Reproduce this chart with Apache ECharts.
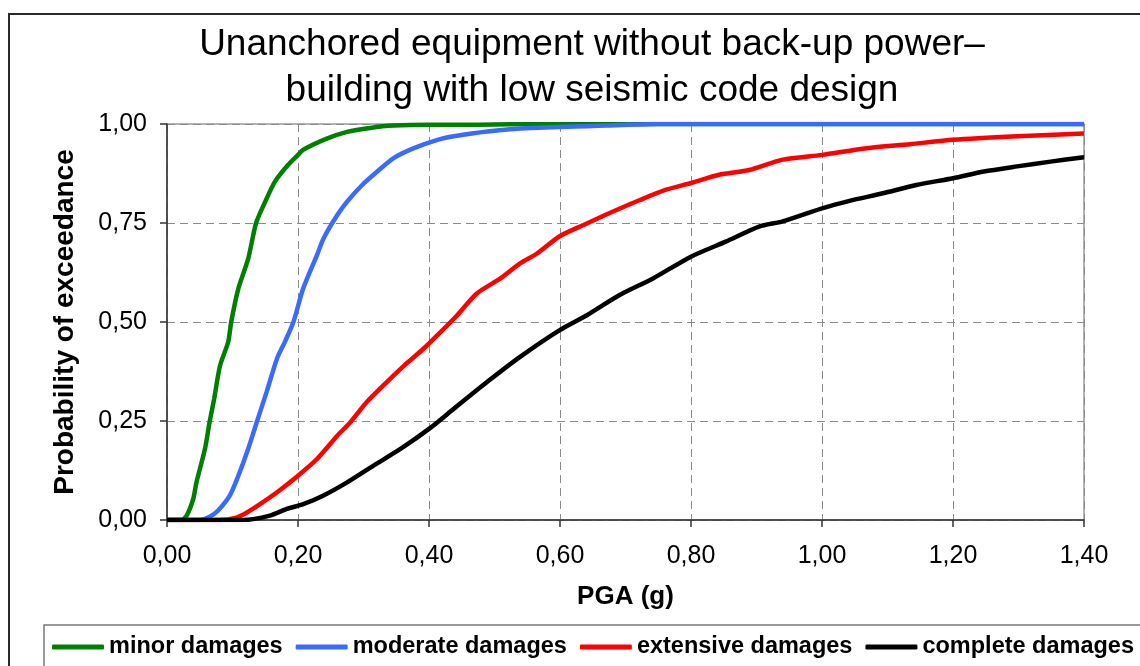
<!DOCTYPE html>
<html>
<head>
<meta charset="utf-8">
<title>Unanchored equipment fragility</title>
<script src="https://cdn.jsdelivr.net/npm/echarts@6.0.0/dist/echarts.min.js"></script>
<style>
  html, body { margin: 0; padding: 0; background: #fff; }
  #chart { width: 1140px; height: 666px; }
</style>
</head>
<body>
<div id="chart"></div>
<script>
  // PGA (g) / probability of exceedance
  var minorX = [0, 0.022, 0.03, 0.04, 0.045, 0.058, 0.065, 0.072, 0.081, 0.0935, 0.098, 0.109, 0.124, 0.136, 0.15, 0.165, 0.185, 0.2, 0.208, 0.244, 0.275, 0.31, 0.346, 0.40, 0.45, 0.50, 0.55, 1.40];
  var minorY = [0, 0, 0.011, 0.053, 0.095, 0.18, 0.247, 0.306, 0.39, 0.45, 0.5, 0.585, 0.66, 0.75, 0.804, 0.855, 0.897, 0.922, 0.935, 0.963, 0.98, 0.99, 0.996, 0.998, 0.998, 0.999, 1, 1];

  var moderateX = [0, 0.05, 0.065, 0.078, 0.096, 0.109, 0.124, 0.137, 0.152, 0.168, 0.18, 0.193, 0.208, 0.229, 0.239, 0.26, 0.275, 0.298, 0.321, 0.346, 0.377, 0.413, 0.438, 0.489, 0.555, 0.671, 0.75, 1.40];
  var moderateY = [0, 0, 0.008, 0.024, 0.062, 0.112, 0.18, 0.247, 0.323, 0.408, 0.45, 0.5, 0.585, 0.669, 0.711, 0.77, 0.804, 0.846, 0.88, 0.914, 0.939, 0.96, 0.969, 0.981, 0.99, 0.996, 1, 1];

  var extensiveX = [0, 0.08, 0.106, 0.122, 0.142, 0.168, 0.2, 0.229, 0.26, 0.28, 0.305, 0.336, 0.362, 0.392, 0.418, 0.443, 0.473, 0.509, 0.539, 0.565, 0.599, 0.636, 0.681, 0.722, 0.762, 0.8, 0.843, 0.889, 0.94, 1.0, 1.068, 1.134, 1.2, 1.298, 1.4];
  var extensiveY = [0, 0, 0.006, 0.019, 0.04, 0.07, 0.112, 0.154, 0.213, 0.247, 0.298, 0.349, 0.39, 0.433, 0.475, 0.517, 0.572, 0.61, 0.648, 0.673, 0.716, 0.745, 0.779, 0.808, 0.834, 0.851, 0.872, 0.884, 0.91, 0.922, 0.939, 0.949, 0.96, 0.969, 0.976];

  var completeX = [0, 0.116, 0.157, 0.183, 0.208, 0.239, 0.275, 0.316, 0.357, 0.4, 0.438, 0.489, 0.539, 0.599, 0.641, 0.691, 0.742, 0.8, 0.853, 0.904, 0.94, 1.0, 1.042, 1.093, 1.144, 1.2, 1.247, 1.298, 1.349, 1.4];
  var completeY = [0, 0, 0.011, 0.028, 0.04, 0.062, 0.095, 0.138, 0.18, 0.23, 0.281, 0.349, 0.412, 0.479, 0.517, 0.568, 0.61, 0.665, 0.703, 0.741, 0.754, 0.787, 0.806, 0.825, 0.846, 0.863, 0.88, 0.893, 0.905, 0.916];

  var seriesNames = ['minor damages', 'moderate damages', 'extensive damages', 'complete damages'];
  var seriesColors = ['#008000', '#3a6bff', '#ff0000', '#000000'];

  var FONT = "'Liberation Sans', Arial, sans-serif";

  function pairs(xs, ys) {
    var out = [];
    for (var i = 0; i < xs.length; i++) {
      out.push([xs[i], ys[i]]);
    }
    return out;
  }

  // decimal comma like the original
  function commaFmt(v) {
    return v.toFixed(2).replace('.', ',');
  }

  var curves = [
    pairs(minorX, minorY),
    pairs(moderateX, moderateY),
    pairs(extensiveX, extensiveY),
    pairs(completeX, completeY)
  ];

  var chart = echarts.init(document.getElementById('chart'), null, { renderer: 'canvas' });

  var option = {
    animation: false,
    backgroundColor: '#fff',
    textStyle: { fontFamily: FONT },
    title: {
      text: 'Unanchored equipment without back-up power\u2013\nbuilding with low seismic code design',
      left: 592,
      top: 22,
      padding: 0,
      textAlign: 'center',
      textStyle: {
        fontFamily: FONT,
        fontSize: 37,
        fontWeight: 'normal',
        color: '#000',
        lineHeight: 46
      }
    },
    legend: {
      data: seriesNames,
      left: 52,
      top: 635,
      width: 1120,
      padding: 0,
      itemWidth: 52,
      itemHeight: 5,
      itemGap: 13,
      icon: 'roundRect',
      textStyle: {
        fontFamily: FONT,
        fontSize: 23.5,
        fontWeight: 'bold',
        color: '#000'
      }
    },
    grid: {
      left: 167,
      top: 124,
      right: 56,
      bottom: 146,
      show: true,
      borderColor: '#9a9a9a',
      borderWidth: 1.5
    },
    xAxis: {
      type: 'value',
      min: 0,
      max: 1.4,
      interval: 0.2,
      name: 'PGA (g)',
      nameLocation: 'middle',
      nameGap: 64,
      nameTextStyle: { fontFamily: FONT, fontSize: 26, fontWeight: 'bold', color: '#000' },
      axisLine: { show: true, lineStyle: { color: '#333', width: 1.5 } },
      axisTick: { show: true, length: 7, lineStyle: { color: '#333', width: 1.5 } },
      axisLabel: { fontFamily: FONT, fontSize: 25, color: '#000', margin: 24, formatter: commaFmt },
      splitLine: { show: true, lineStyle: { color: '#8a8a8a', type: [8, 5], width: 1 } }
    },
    yAxis: {
      type: 'value',
      min: 0,
      max: 1,
      interval: 0.25,
      name: 'Probability of exceedance',
      nameLocation: 'middle',
      nameGap: 88,
      nameTextStyle: { fontFamily: FONT, fontSize: 28, fontWeight: 'bold', color: '#000' },
      axisLine: { show: true, lineStyle: { color: '#333', width: 1.5 } },
      axisTick: { show: true, length: 7, lineStyle: { color: '#333', width: 1.5 } },
      axisLabel: { fontFamily: FONT, fontSize: 25, color: '#000', margin: 20, formatter: commaFmt },
      splitLine: { show: true, lineStyle: { color: '#8a8a8a', type: [8, 5], width: 1 } }
    },
    graphic: [
      { // outer chart frame, runs off the right and bottom edges
        type: 'rect',
        silent: true,
        shape: { x: 9, y: 14, width: 1200, height: 720 },
        style: { fill: 'none', stroke: '#2a2a2a', lineWidth: 2 }
      },
      { // legend box
        type: 'rect',
        silent: true,
        shape: { x: 44, y: 625, width: 1200, height: 100 },
        style: { fill: 'none', stroke: '#7a7a7a', lineWidth: 1.5 }
      }
    ],
    series: seriesNames.map(function (name, i) {
      return {
        name: name,
        type: 'line',
        data: curves[i],
        symbol: 'none',
        showSymbol: false,
        smooth: 0.25,
        color: seriesColors[i],
        lineStyle: { color: seriesColors[i], width: 4.5 },
        z: 3 + i
      };
    })
  };

  chart.setOption(option);
  window.addEventListener('resize', chart.resize);
</script>
</body>
</html>
